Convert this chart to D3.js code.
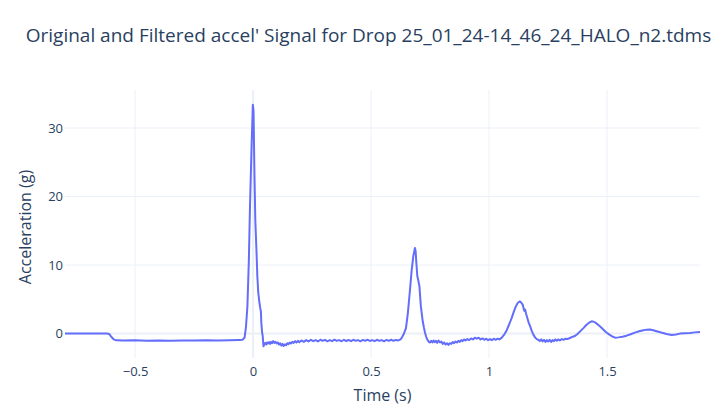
<!DOCTYPE html>
<html>
<head>
<meta charset="utf-8">
<script src="https://cdn.jsdelivr.net/npm/d3@7"></script>
<style>
  body { margin: 0; background: #ffffff; }
  text { font-family: "Open Sans", verdana, arial, sans-serif; fill: #2a3f5f; }
</style>
</head>
<body>
<div id="chart"></div>
<script>

/*
Drop test signal: time in seconds, acceleration in g.
*/
var timeS = [
  -0.797, -0.70, -0.62, -0.61, -0.60, -0.59, -0.58, -0.55, -0.50, -0.45,
  -0.40, -0.35, -0.30, -0.25, -0.20, -0.15, -0.10, -0.06, -0.045,
  // impact
  -0.036, -0.03, -0.024, -0.018, -0.013, -0.007, -0.001, 0.002, 0.0057, 0.0095,
  0.0127, 0.016, 0.018, 0.022, 0.027, 0.031, 0.033, 0.035, 0.038, 0.041, 0.044,
  0.048, 0.052, 0.056, 0.060, 0.064, 0.068, 0.072, 0.076, 0.080, 0.085,
  0.090, 0.095, 0.100, 0.105, 0.110, 0.115, 0.120, 0.125, 0.130, 0.135,
  0.140, 0.145, 0.150, 0.155, 0.160, 0.166, 0.172, 0.178, 0.184, 0.190, 0.196,
  0.205, 0.215, 0.225, 0.235, 0.245, 0.255, 0.265, 0.275, 0.285, 0.295,
  0.305, 0.315, 0.325, 0.335, 0.345, 0.355, 0.365, 0.375, 0.385, 0.395,
  0.405, 0.415, 0.425, 0.435, 0.445, 0.455, 0.465, 0.475, 0.485, 0.495,
  0.505, 0.515, 0.525, 0.535, 0.545, 0.555, 0.565, 0.575, 0.585, 0.595,
  0.605, 0.615, 0.625,
  // first bounce
  0.630, 0.638, 0.648, 0.656, 0.665, 0.672, 0.679, 0.686, 0.689, 0.691,
  0.696, 0.700, 0.705, 0.711, 0.719, 0.724, 0.729, 0.734, 0.739, 0.745, 0.750,
  0.755, 0.760, 0.765, 0.770, 0.775, 0.780, 0.786, 0.792, 0.798, 0.804,
  0.810, 0.816, 0.822, 0.828, 0.834, 0.840, 0.846, 0.852, 0.858, 0.864,
  0.870, 0.876, 0.882, 0.888, 0.894, 0.900, 0.908, 0.916, 0.924, 0.932,
  0.940, 0.948, 0.956, 0.964, 0.972, 0.980, 0.988, 0.996, 1.004, 1.012,
  1.020, 1.028, 1.036, 1.044, 1.050,
  // second bounce
  1.054, 1.065, 1.075, 1.086, 1.096, 1.105, 1.114, 1.122, 1.131, 1.137,
  1.143, 1.147, 1.150, 1.153, 1.157, 1.162, 1.168, 1.174, 1.181, 1.188,
  1.195, 1.202, 1.209,
  1.215, 1.221, 1.227, 1.233, 1.239, 1.245, 1.251, 1.257, 1.263, 1.269,
  1.275, 1.281, 1.287, 1.293, 1.300, 1.308, 1.316, 1.324, 1.332,
  // settling
  1.345, 1.355, 1.364, 1.375, 1.388, 1.400, 1.412, 1.424, 1.435, 1.442,
  1.449, 1.460, 1.472, 1.484, 1.496, 1.510, 1.522, 1.534, 1.548, 1.565,
  1.583, 1.600, 1.618, 1.636, 1.654, 1.668, 1.682, 1.696, 1.710, 1.730,
  1.752, 1.774, 1.792, 1.809, 1.830, 1.852, 1.872, 1.894
];

var accelG = [
  0.0, 0.0, 0.02, -0.05, -0.5, -0.85, -0.98, -1.02, -0.98, -1.04,
  -1.0, -1.03, -0.99, -1.02, -0.98, -1.0, -0.96, -0.92, -0.9,
  -0.6, 1.0, 4.0, 10.5, 18.6, 26.5, 33.4, 32.5, 23.5, 16.5,
  13.7, 10.5, 8.4, 6.0, 4.5, 3.6, 3.3, 1.6, 0.3, -0.4, -1.85,
  -1.5, -1.35, -1.6, -1.3, -1.45, -1.25, -1.5, -1.2, -1.4, -1.1,
  -1.35, -1.2, -1.45, -1.3, -1.6, -1.4, -1.75, -1.5, -1.8, -1.55,
  -1.7, -1.4, -1.55, -1.3, -1.45, -1.2, -1.35, -1.1, -1.3, -1.05, -1.25,
  -1.0, -1.2, -0.95, -1.15, -0.9, -1.1, -0.95, -1.15, -0.9, -1.05,
  -0.92, -1.12, -0.95, -1.1, -0.88, -1.05, -0.95, -1.12, -0.9, -1.08,
  -0.93, -1.1, -0.9, -1.05, -0.95, -1.12, -0.92, -1.05, -0.88, -1.08,
  -0.95, -1.1, -0.9, -1.05, -0.95, -1.12, -0.92, -1.05, -0.9, -1.05,
  -0.92, -1.0, -0.85,
  -0.6, -0.1, 0.8, 3.0, 6.4, 9.2, 11.3, 12.5, 12.0, 10.8,
  8.4, 7.8, 6.9, 4.0, 1.8, 0.9, 0.1, -0.5, -0.9, -1.2, -1.3,
  -1.05, -1.3, -1.0, -1.25, -1.05, -1.35, -1.0, -1.3, -1.15, -1.5,
  -1.3, -1.6, -1.4, -1.65, -1.4, -1.5, -1.25, -1.4, -1.15, -1.3,
  -1.05, -1.2, -0.95, -1.1, -0.85, -1.0, -0.8, -0.95, -0.7, -0.85,
  -0.6, -0.75, -0.6, -0.85, -0.7, -0.9, -0.75, -0.95, -0.8, -0.95,
  -0.75, -0.9, -0.75, -0.85, -0.7,
  -0.6, -0.1, 0.5, 1.4, 2.3, 3.2, 4.0, 4.5, 4.7, 4.5,
  4.2, 3.6, 3.3, 3.5, 2.9, 2.3, 1.6, 1.1, 0.4, -0.15,
  -0.55, -0.8, -0.9,
  -1.1, -0.85, -1.15, -0.9, -1.2, -0.95, -1.15, -0.9, -1.2, -0.95,
  -1.1, -0.85, -1.05, -0.85, -1.0, -0.8, -0.9, -0.75, -0.8,
  -0.6, -0.45, -0.35, -0.05, 0.4, 0.8, 1.25, 1.6, 1.8, 1.75,
  1.65, 1.35, 1.0, 0.6, 0.2, -0.15, -0.4, -0.6, -0.55, -0.45,
  -0.3, -0.1, 0.15, 0.35, 0.5, 0.58, 0.6, 0.5, 0.35, 0.15,
  -0.05, -0.2, -0.12, 0.0, 0.05, 0.1, 0.18, 0.25
];

var xTicks = [-0.5, 0, 0.5, 1, 1.5];
var xTickLabels = ["\u22120.5", "0", "0.5", "1", "1.5"];
var yTicks = [0, 10, 20, 30];
var yRange = [-3.56, 35.55];

var chartTitle = "Original and Filtered accel' Signal for Drop 25_01_24-14_46_24_HALO_n2.tdms";

// sizes of the svg and the plot area
var width = 721,
height = 417,
margin = {top: 90, right: 21, bottom: 59, left: 65},
plotWidth = width - margin.left - margin.right,
plotHeight = height - margin.top - margin.bottom;

var points = timeS.map(function(t, i) { return {t: t, g: accelG[i]}; });

var svg = d3.select("#chart")
            .append("svg")
            .attr("width", width)
            .attr("height", height);

var plot = svg.append("g")
              .attr("transform", "translate(" + margin.left + "," + margin.top + ")");

// scales
var xScale = d3.scaleLinear()
               .domain(d3.extent(timeS))
               .range([0, plotWidth]);

var yScale = d3.scaleLinear()
               .domain(yRange)
               .range([plotHeight, 0]);

// grid lines, zero lines a bit thicker like plotly
plot.selectAll(".xgrid")
    .data(xTicks)
    .enter()
    .append("line")
    .attr("class", "xgrid")
    .attr("x1", function(d) { return xScale(d); })
    .attr("x2", function(d) { return xScale(d); })
    .attr("y1", 0)
    .attr("y2", plotHeight)
    .style("stroke", "#ebf0f8")
    .style("stroke-width", function(d) { return d === 0 ? 2 : 1; });

plot.selectAll(".ygrid")
    .data(yTicks)
    .enter()
    .append("line")
    .attr("class", "ygrid")
    .attr("x1", 0)
    .attr("x2", plotWidth)
    .attr("y1", function(d) { return yScale(d); })
    .attr("y2", function(d) { return yScale(d); })
    .style("stroke", "#ebf0f8")
    .style("stroke-width", function(d) { return d === 0 ? 2 : 1; });

// axes, only the labels are shown
var xAxis = d3.axisBottom(xScale)
              .tickValues(xTicks)
              .tickFormat(function(d, i) { return xTickLabels[i]; })
              .tickSize(0)
              .tickPadding(9);

var yAxis = d3.axisLeft(yScale)
              .tickValues(yTicks)
              .tickSize(0)
              .tickPadding(2);

var gx = plot.append("g")
             .attr("transform", "translate(0," + plotHeight + ")")
             .call(xAxis);

var gy = plot.append("g")
             .call(yAxis);

[gx, gy].forEach(function(g) {
  g.select(".domain").remove();
  g.selectAll("text")
   .style("font-size", "13px")
   .style("fill", "#2a3f5f")
   .attr("font-family", null);
});

// the signal
var line = d3.line()
             .x(function(d) { return xScale(d.t); })
             .y(function(d) { return yScale(d.g); });

plot.append("path")
    .datum(points)
    .attr("d", line)
    .style("fill", "none")
    .style("stroke", "#636efa")
    .style("stroke-width", 2)
    .style("stroke-linejoin", "round");

// titles
svg.append("text")
   .attr("x", 368.5)
   .attr("y", 42)
   .attr("text-anchor", "middle")
   .style("font-size", "19px")
   .text(chartTitle);

svg.append("text")
   .attr("x", margin.left + plotWidth / 2)
   .attr("y", 401)
   .attr("text-anchor", "middle")
   .style("font-size", "16px")
   .text("Time (s)");

svg.append("text")
   .attr("transform", "translate(31," + (margin.top + plotHeight / 2 + 3) + ") rotate(-90)")
   .attr("text-anchor", "middle")
   .style("font-size", "16px")
   .text("Acceleration (g)");

</script>
</body>
</html>
